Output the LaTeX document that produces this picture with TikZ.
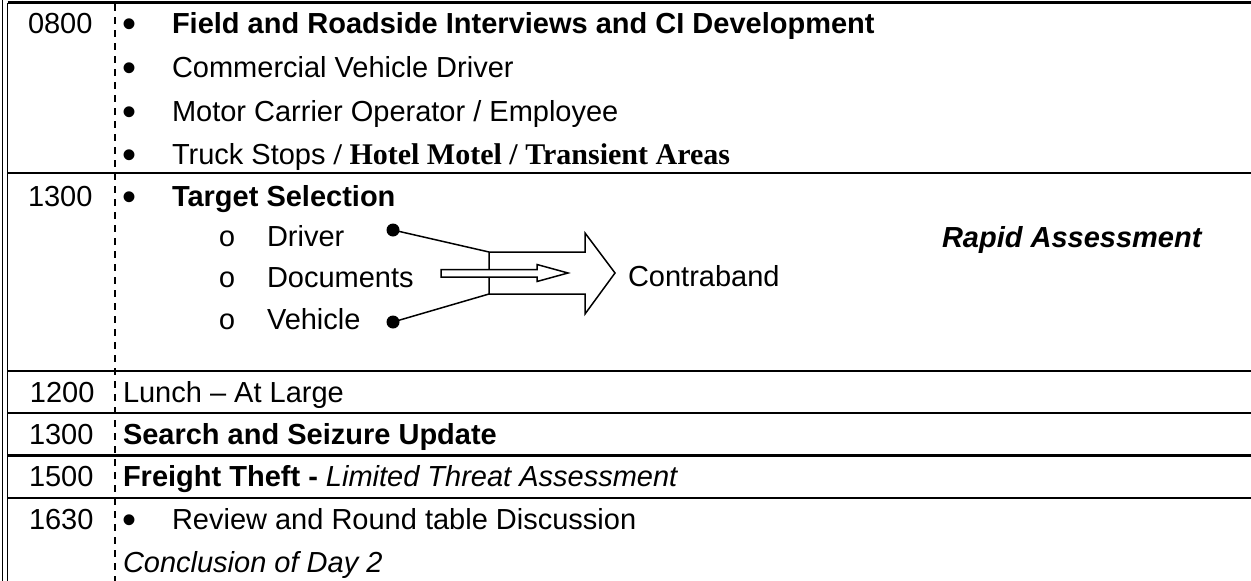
\documentclass[tikz,border=0pt]{standalone}
\usepackage{fontspec}
\setmainfont{Liberation Sans}
\newfontfamily\tnrfont{Liberation Serif}
\newfontfamily\courfont{Liberation Mono}
\newcommand\txtsize{\fontsize{29}{34}\selectfont}
\newcommand\serifsize{\fontsize{30}{34}\selectfont}
\newcommand\bulsize{\fontsize{40}{44}\selectfont}
\begin{document}
\begin{tikzpicture}[x=1pt,y=-1pt,
  every node/.style={inner sep=0pt,outer sep=0pt,font=\txtsize},
  txt/.style={anchor=base west},
  bul/.style={anchor=base,font=\bulsize},
  subbul/.style={anchor=base,font=\courfont\txtsize},
  rulel/.style={line width=2.6pt},
  borderl/.style={line width=1.5pt},
  vdash/.style={line width=2.4pt,dash pattern=on 7pt off 6pt},
  arrshape/.style={line width=1.5pt,fill=white,line join=miter},
  conn/.style={line width=1.5pt},
  dotnode/.style={circle,fill=black,minimum size=13pt}]
\useasboundingbox (0,0) rectangle (1251,581);
% frame
\draw[borderl] (2.5,0) -- (2.5,581);
\draw[borderl] (7.5,2.5) -- (7.5,581);
\draw[rulel] (7.5,2.5) -- (1251,2.5);
\foreach \yy in {173,371,413,455.5,498}{\draw[rulel] (7.5,\yy) -- (1251,\yy);}
\draw[vdash] (115,4) -- (115,581);
% row 1
\node[txt] (n1) at (28,33) {0800};
\node[bul] (b1) at (130,37) {•};
\node[txt,font=\txtsize\bfseries] (r1a) at (172,33) {Field and Roadside Interviews and CI Development};
\node[bul] (b2) at (130,81) {•};
\node[txt] (r1b) at (172,77) {Commercial Vehicle Driver};
\node[bul] (b3) at (130,125) {•};
\node[txt] (r1c) at (172,121) {Motor Carrier Operator / Employee};
\node[bul] (b4) at (130,168) {•};
\node[txt] (r1d) at (172,164) {Truck Stops {\tnrfont\serifsize\bfseries / Hotel Motel / Transient Areas}};
% row 2
\node[txt] (n2) at (28,206) {1300};
\node[bul] (b5) at (130,210) {•};
\node[txt,font=\txtsize\bfseries] (r2a) at (172,206) {Target Selection};
\node[subbul] (o1) at (227,246) {o};
\node[txt] (drv) at (267,246) {Driver};
\node[subbul] (o2) at (227,287) {o};
\node[txt] (doc) at (267,287) {Documents};
\node[subbul] (o3) at (227,329) {o};
\node[txt] (veh) at (267,329) {Vehicle};
\node[txt] (contra) at (628,286) {Contraband};
\node[txt,font=\txtsize\bfseries\itshape] (rapid) at (942,247) {Rapid Assessment};
% big arrow
\coordinate (A1) at (489,252);
\coordinate (A2) at (585,252);
\coordinate (A3) at (585,233);
\coordinate (A4) at (615,273);
\coordinate (A5) at (585,314);
\coordinate (A6) at (585,294);
\coordinate (A7) at (489,294);
\draw[arrshape] (A1) -- (A2) -- (A3) -- (A4) -- (A5) -- (A6) -- (A7) -- cycle;
% small arrow
\coordinate (S1) at (441,269.5);
\coordinate (S2) at (537,269.5);
\coordinate (S3) at (537,264.5);
\coordinate (S4) at (568,273);
\coordinate (S5) at (537,281.5);
\coordinate (S6) at (537,277);
\coordinate (S7) at (441,277);
\draw[arrshape] (S1) -- (S2) -- (S3) -- (S4) -- (S5) -- (S6) -- (S7) -- cycle;
% dots and connectors
\node[dotnode] (d1) at (393,230) {};
\node[dotnode] (d2) at (393,322) {};
\draw[conn] (d1.center) -- (A1);
\draw[conn] (d2.center) -- (A7);
% rows 3-6
\node[txt] (n3) at (30,402) {1200};
\node[txt] (r3) at (123,402) {Lunch – At Large};
\node[txt] (n4) at (29,444) {1300};
\node[txt,font=\txtsize\bfseries] (r4) at (123,444) {Search and Seizure Update};
\node[txt] (n5) at (29,486) {1500};
\node[txt] (r5) at (123,486) {\textbf{Freight Theft -} \textit{Limited Threat Assessment}};
\node[txt] (n6) at (29,529) {1630};
\node[bul] (b6) at (130,533) {•};
\node[txt] (r6a) at (172,529) {Review and Round table Discussion};
\node[txt,font=\txtsize\itshape] (r6b) at (123,572) {Conclusion of Day 2};
\end{tikzpicture}
\end{document}
